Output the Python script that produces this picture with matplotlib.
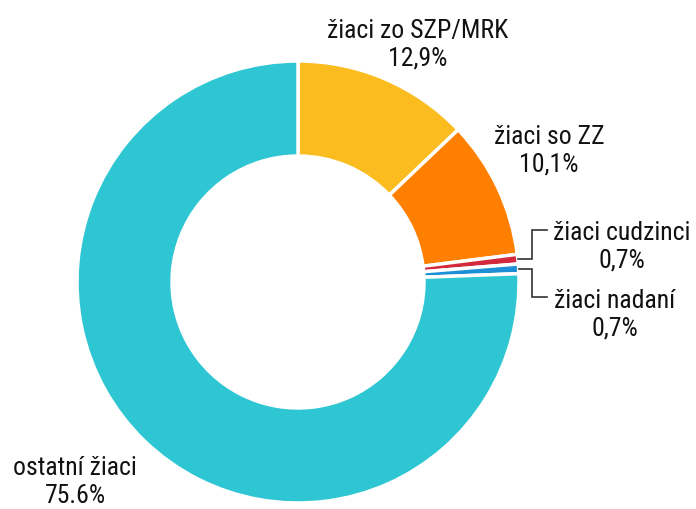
import numpy as np
import matplotlib
matplotlib.use('Agg')
import matplotlib.pyplot as plt
from matplotlib import font_manager

names = [f.name for f in font_manager.fontManager.ttflist]
fam = 'Roboto Condensed' if 'Roboto Condensed' in names else 'Roboto'
plt.rc('font', family=[fam, 'DejaVu Sans'])

labels = ['žiaci zo SZP/MRK', 'žiaci so ZZ', 'žiaci cudzinci', 'žiaci nadaní', 'ostatní žiaci']
values = [12.9, 10.1, 0.7, 0.7, 75.6]
value_text = ['12,9%', '10,1%', '0,7%', '0,7%', '75.6%']
colors = ['#FBBC1F', '#FF7F00', '#D22A3C', '#1C8FD6', '#2EC6D2']

fig = plt.figure(figsize=(6.96, 5.09), dpi=100)
ax = fig.add_axes([0, 0, 1, 1])

wedges, _ = ax.pie(values, colors=colors, startangle=90, counterclock=False,
                   radius=1.0, wedgeprops=dict(width=0.43, edgecolor='white', linewidth=2.5))

ax.set_xlim(-298 / 221, (696 - 298) / 221)
ax.set_ylim(-227 / 221, 282 / 221)
ax.set_aspect('equal')
ax.axis('off')

# label positions in figure pixels (x, y from top)
text_pos = [(418, 45), (549, 151), (622, 247), (615, 315), (75, 482)]
fs = 18.5
for i, (lab, vt) in enumerate(zip(labels, value_text)):
    px, py = text_pos[i]
    fig.text(px / 696, 1 - py / 509, lab + '\n' + vt, ha='center', va='center',
             fontsize=fs, linespacing=1.2, color='#111111')

# leader lines for the tiny slices
for i, ty in [(2, 230), (3, 297)]:
    w = wedges[i]
    ang = np.deg2rad((w.theta1 + w.theta2) / 2)
    x0, y0 = np.cos(ang), np.sin(ang)
    xm = (532 - 298) / 221
    xe = (547 - 298) / 221
    ye = (282 - ty) / 221
    ax.plot([x0, xm, xm, xe], [y0, y0, ye, ye], color='#333333', lw=1.2,
            solid_joinstyle='miter')

plt.savefig('out.png', dpi=100)
plt.close()
